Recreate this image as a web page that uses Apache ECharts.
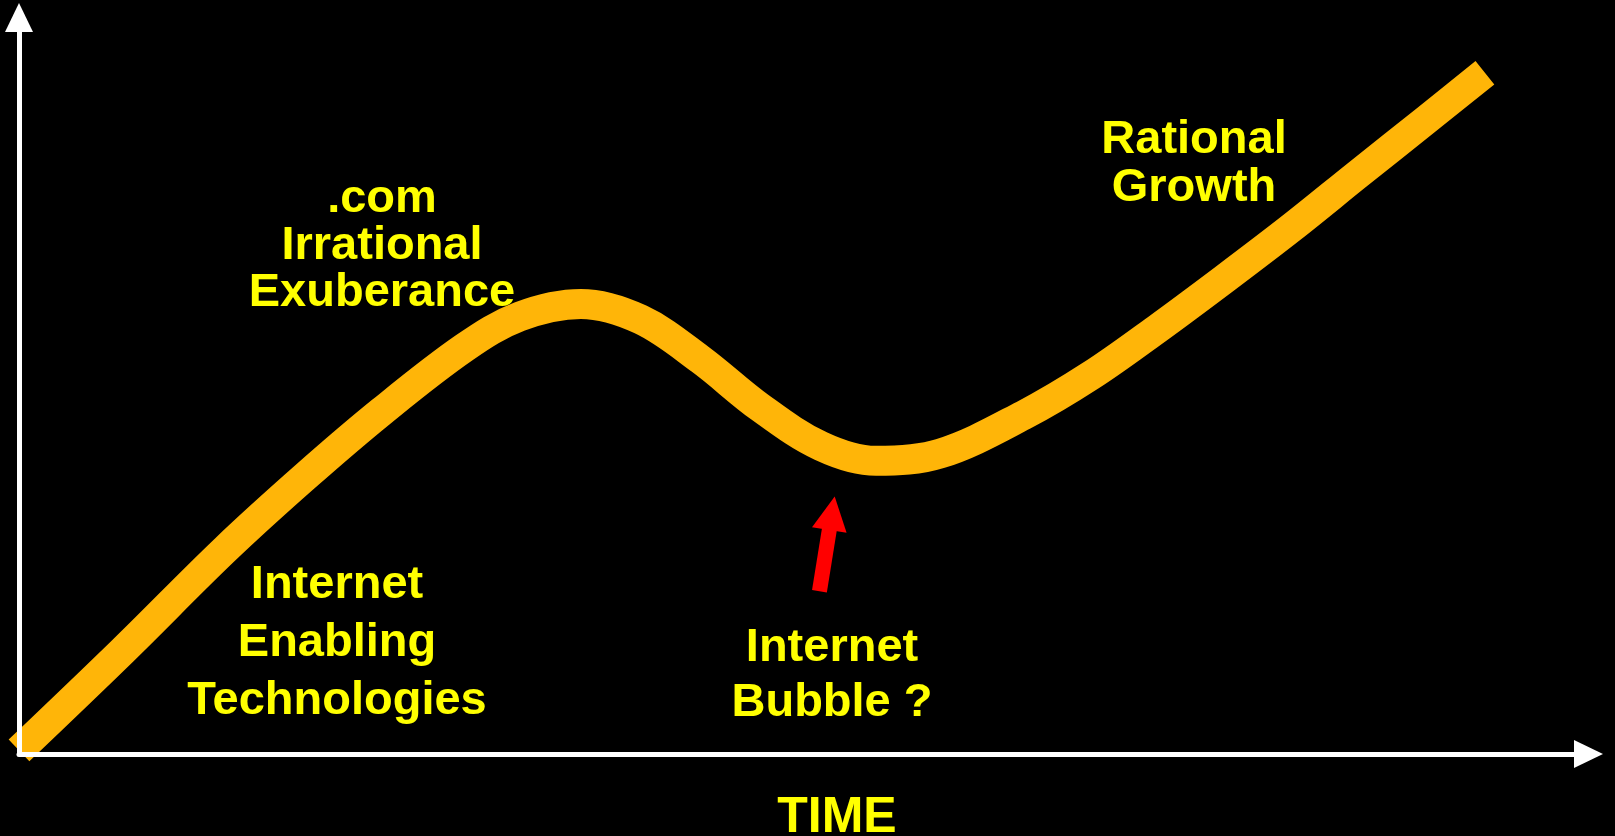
<!DOCTYPE html>
<html>
<head>
<meta charset="utf-8">
<script src="https://cdn.jsdelivr.net/npm/echarts@6/dist/echarts.min.js"></script>
<style>
html, body { margin: 0; padding: 0; background: #000; }
#chart { width: 1615px; height: 836px; }
</style>
</head>
<body>
<div id="chart"></div>
<script>
// curve: time (x) against growth (y), both on a 0..100 scale
var timeX   = [0, 6.6, 13.1, 18.2, 23.1, 28.4, 31.9, 35.8, 39.6, 43.4, 47.2, 51.1, 54.6, 58.7, 64.0, 68.3, 72.5, 76.8, 81.1, 85.3, 89.6, 93.4];
var growthY = [0.5, 14.0, 27.7, 37.6, 46.5, 55.2, 59.4, 61.1, 59.0, 53.6, 47.1, 41.8, 39.8, 40.8, 46.0, 51.4, 57.7, 64.5, 71.5, 78.7, 86.0, 92.5];

// red arrow pointing at the dip: tail, then head
var arrowX = [51.0, 51.8];
var arrowY = [22.1, 32.7];

var dotcomText   = ['.com', 'Irrational', 'Exuberance'];
var enablingText = ['Internet', 'Enabling', 'Technologies'];
var bubbleText   = ['Internet', 'Bubble ?'];
var rationalText = ['Rational', 'Growth'];
var axisTitle    = 'TIME';

function textLines(lines, cx, ys, size) {
    return lines.map(function (t, i) {
        return {
            type: 'text',
            x: cx,
            y: ys[i],
            z: 20,
            style: {
                text: t,
                fill: '#ffff00',
                font: 'bold ' + size + 'px "Liberation Sans", Arial, sans-serif',
                textAlign: 'center',
                textVerticalAlign: 'middle',
                align: 'center',
                verticalAlign: 'middle'
            }
        };
    });
}

var axisLine = {
    show: true,
    onZero: false,
    symbol: ['none', 'triangle'],
    symbolSize: [28, 29],
    lineStyle: { color: '#ffffff', width: 5 }
};

var option = {
    backgroundColor: '#000000',
    animation: false,
    grid: { left: 19, right: 26.5, top: 17.5, bottom: 82 },
    xAxis: {
        type: 'value', min: 0, max: 100, z: 10,
        axisLine: axisLine,
        axisTick: { show: false }, axisLabel: { show: false }, splitLine: { show: false }
    },
    yAxis: {
        type: 'value', min: 0, max: 100, z: 10,
        axisLine: axisLine,
        axisTick: { show: false }, axisLabel: { show: false }, splitLine: { show: false }
    },
    graphic: []
        .concat(textLines(dotcomText, 382, [199, 246, 293], 47))
        .concat(textLines(enablingText, 337, [585, 643, 701], 47))
        .concat(textLines(bubbleText, 832, [648, 703], 47))
        .concat(textLines(rationalText, 1194, [140, 188], 47))
        .concat(textLines([axisTitle], 837, [818], 50)),
    series: [{
        type: 'line',
        data: timeX.map(function (x, i) { return [x, growthY[i]]; }),
        smooth: 0.35,
        symbol: 'none',
        showSymbol: false,
        clip: false,
        silent: true,
        z: 2,
        lineStyle: { color: '#FFB508', width: 30, cap: 'butt', join: 'round' },
        markLine: {
            silent: true,
            symbol: ['none', 'triangle'],
            symbolSize: [35, 34],
            label: { show: false },
            lineStyle: { color: '#ff0000', width: 15, type: 'solid', cap: 'butt' },
            data: [[
                { coord: [arrowX[0], arrowY[0]] },
                { coord: [arrowX[1], arrowY[1]] }
            ]]
        }
    }]
};

var chart = echarts.init(document.getElementById('chart'));
chart.setOption(option);
</script>
</body>
</html>
